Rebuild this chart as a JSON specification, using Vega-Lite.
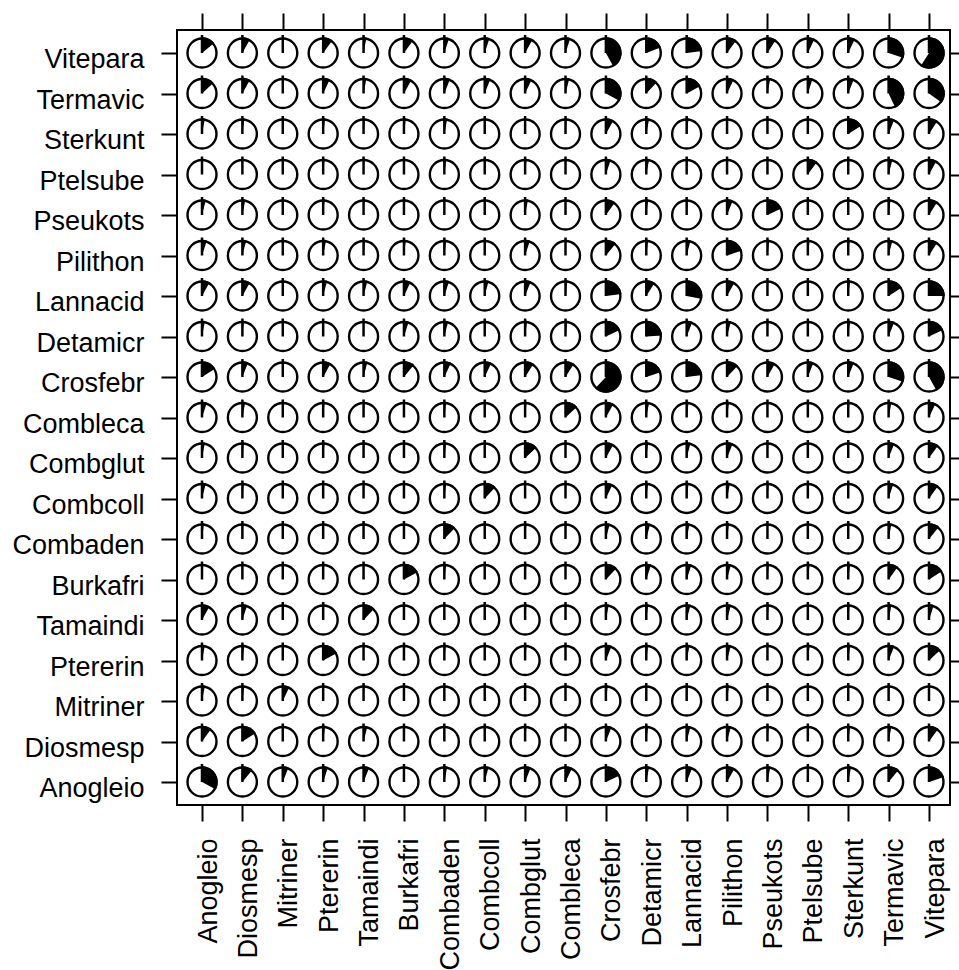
{
  "$schema": "https://vega.github.io/schema/vega-lite/v6.json",
  "autosize": {"type": "none"},
  "padding": {"left": 177, "top": 30, "right": 9, "bottom": 165},
  "width": 773,
  "height": 775,
  "background": "white",
  "config": {
    "view": {"stroke": "black", "strokeWidth": 2},
    "axis": {
      "domain": false,
      "grid": false,
      "tickColor": "black",
      "tickWidth": 2,
      "tickSize": 16,
      "labelFont": "Liberation Sans",
      "labelFontSize": 27,
      "labelColor": "black",
      "labelOverlap": false,
      "labelBound": false,
      "labelFlush": false
    }
  },
  "data": {"values": [
    {"row":"Vitepara","col":"Anogleio","value":0.14},{"row":"Vitepara","col":"Diosmesp","value":0.08},{"row":"Vitepara","col":"Mitriner","value":0.005},{"row":"Vitepara","col":"Ptererin","value":0.10},{"row":"Vitepara","col":"Tamaindi","value":0.03},{"row":"Vitepara","col":"Burkafri","value":0.10},{"row":"Vitepara","col":"Combaden","value":0.05},{"row":"Vitepara","col":"Combcoll","value":0.05},{"row":"Vitepara","col":"Combglut","value":0.08},{"row":"Vitepara","col":"Combleca","value":0.05},{"row":"Vitepara","col":"Crosfebr","value":0.42},{"row":"Vitepara","col":"Detamicr","value":0.19},{"row":"Vitepara","col":"Lannacid","value":0.23},{"row":"Vitepara","col":"Pilithon","value":0.10},{"row":"Vitepara","col":"Pseukots","value":0.09},{"row":"Vitepara","col":"Ptelsube","value":0.07},{"row":"Vitepara","col":"Sterkunt","value":0.07},{"row":"Vitepara","col":"Termavic","value":0.30},{"row":"Vitepara","col":"Vitepara","value":0.59},
    {"row":"Termavic","col":"Anogleio","value":0.13},{"row":"Termavic","col":"Diosmesp","value":0.08},{"row":"Termavic","col":"Mitriner","value":0.005},{"row":"Termavic","col":"Ptererin","value":0.07},{"row":"Termavic","col":"Tamaindi","value":0.03},{"row":"Termavic","col":"Burkafri","value":0.08},{"row":"Termavic","col":"Combaden","value":0.06},{"row":"Termavic","col":"Combcoll","value":0.06},{"row":"Termavic","col":"Combglut","value":0.07},{"row":"Termavic","col":"Combleca","value":0.04},{"row":"Termavic","col":"Crosfebr","value":0.33},{"row":"Termavic","col":"Detamicr","value":0.12},{"row":"Termavic","col":"Lannacid","value":0.17},{"row":"Termavic","col":"Pilithon","value":0.07},{"row":"Termavic","col":"Pseukots","value":0.03},{"row":"Termavic","col":"Ptelsube","value":0.05},{"row":"Termavic","col":"Sterkunt","value":0.06},{"row":"Termavic","col":"Termavic","value":0.43},{"row":"Termavic","col":"Vitepara","value":0.35},
    {"row":"Sterkunt","col":"Anogleio","value":0.03},{"row":"Sterkunt","col":"Diosmesp","value":0.02},{"row":"Sterkunt","col":"Mitriner","value":0.005},{"row":"Sterkunt","col":"Ptererin","value":0.02},{"row":"Sterkunt","col":"Tamaindi","value":0.015},{"row":"Sterkunt","col":"Burkafri","value":0.02},{"row":"Sterkunt","col":"Combaden","value":0.03},{"row":"Sterkunt","col":"Combcoll","value":0.015},{"row":"Sterkunt","col":"Combglut","value":0.01},{"row":"Sterkunt","col":"Combleca","value":0.015},{"row":"Sterkunt","col":"Crosfebr","value":0.08},{"row":"Sterkunt","col":"Detamicr","value":0.03},{"row":"Sterkunt","col":"Lannacid","value":0.02},{"row":"Sterkunt","col":"Pilithon","value":0.01},{"row":"Sterkunt","col":"Pseukots","value":0.005},{"row":"Sterkunt","col":"Ptelsube","value":0.01},{"row":"Sterkunt","col":"Sterkunt","value":0.16},{"row":"Sterkunt","col":"Termavic","value":0.06},{"row":"Sterkunt","col":"Vitepara","value":0.09},
    {"row":"Ptelsube","col":"Anogleio","value":0.005},{"row":"Ptelsube","col":"Diosmesp","value":0.005},{"row":"Ptelsube","col":"Mitriner","value":0.005},{"row":"Ptelsube","col":"Ptererin","value":0.015},{"row":"Ptelsube","col":"Tamaindi","value":0.01},{"row":"Ptelsube","col":"Burkafri","value":0.01},{"row":"Ptelsube","col":"Combaden","value":0.02},{"row":"Ptelsube","col":"Combcoll","value":0.005},{"row":"Ptelsube","col":"Combglut","value":0.015},{"row":"Ptelsube","col":"Combleca","value":0.01},{"row":"Ptelsube","col":"Crosfebr","value":0.05},{"row":"Ptelsube","col":"Detamicr","value":0.03},{"row":"Ptelsube","col":"Lannacid","value":0.01},{"row":"Ptelsube","col":"Pilithon","value":0.01},{"row":"Ptelsube","col":"Pseukots","value":0.005},{"row":"Ptelsube","col":"Ptelsube","value":0.10},{"row":"Ptelsube","col":"Sterkunt","value":0.01},{"row":"Ptelsube","col":"Termavic","value":0.04},{"row":"Ptelsube","col":"Vitepara","value":0.08},
    {"row":"Pseukots","col":"Anogleio","value":0.04},{"row":"Pseukots","col":"Diosmesp","value":0.03},{"row":"Pseukots","col":"Mitriner","value":0.005},{"row":"Pseukots","col":"Ptererin","value":0.015},{"row":"Pseukots","col":"Tamaindi","value":0.01},{"row":"Pseukots","col":"Burkafri","value":0.015},{"row":"Pseukots","col":"Combaden","value":0.01},{"row":"Pseukots","col":"Combcoll","value":0.01},{"row":"Pseukots","col":"Combglut","value":0.03},{"row":"Pseukots","col":"Combleca","value":0.005},{"row":"Pseukots","col":"Crosfebr","value":0.10},{"row":"Pseukots","col":"Detamicr","value":0.02},{"row":"Pseukots","col":"Lannacid","value":0.01},{"row":"Pseukots","col":"Pilithon","value":0.06},{"row":"Pseukots","col":"Pseukots","value":0.18},{"row":"Pseukots","col":"Ptelsube","value":0.005},{"row":"Pseukots","col":"Sterkunt","value":0.01},{"row":"Pseukots","col":"Termavic","value":0.02},{"row":"Pseukots","col":"Vitepara","value":0.09},
    {"row":"Pilithon","col":"Anogleio","value":0.05},{"row":"Pilithon","col":"Diosmesp","value":0.04},{"row":"Pilithon","col":"Mitriner","value":0.005},{"row":"Pilithon","col":"Ptererin","value":0.03},{"row":"Pilithon","col":"Tamaindi","value":0.015},{"row":"Pilithon","col":"Burkafri","value":0.02},{"row":"Pilithon","col":"Combaden","value":0.02},{"row":"Pilithon","col":"Combcoll","value":0.015},{"row":"Pilithon","col":"Combglut","value":0.05},{"row":"Pilithon","col":"Combleca","value":0.01},{"row":"Pilithon","col":"Crosfebr","value":0.11},{"row":"Pilithon","col":"Detamicr","value":0.02},{"row":"Pilithon","col":"Lannacid","value":0.04},{"row":"Pilithon","col":"Pilithon","value":0.20},{"row":"Pilithon","col":"Pseukots","value":0.02},{"row":"Pilithon","col":"Ptelsube","value":0.02},{"row":"Pilithon","col":"Sterkunt","value":0.015},{"row":"Pilithon","col":"Termavic","value":0.04},{"row":"Pilithon","col":"Vitepara","value":0.09},
    {"row":"Lannacid","col":"Anogleio","value":0.08},{"row":"Lannacid","col":"Diosmesp","value":0.08},{"row":"Lannacid","col":"Mitriner","value":0.005},{"row":"Lannacid","col":"Ptererin","value":0.04},{"row":"Lannacid","col":"Tamaindi","value":0.04},{"row":"Lannacid","col":"Burkafri","value":0.07},{"row":"Lannacid","col":"Combaden","value":0.05},{"row":"Lannacid","col":"Combcoll","value":0.04},{"row":"Lannacid","col":"Combglut","value":0.06},{"row":"Lannacid","col":"Combleca","value":0.02},{"row":"Lannacid","col":"Crosfebr","value":0.23},{"row":"Lannacid","col":"Detamicr","value":0.09},{"row":"Lannacid","col":"Lannacid","value":0.28},{"row":"Lannacid","col":"Pilithon","value":0.08},{"row":"Lannacid","col":"Pseukots","value":0.01},{"row":"Lannacid","col":"Ptelsube","value":0.01},{"row":"Lannacid","col":"Sterkunt","value":0.02},{"row":"Lannacid","col":"Termavic","value":0.16},{"row":"Lannacid","col":"Vitepara","value":0.25},
    {"row":"Detamicr","col":"Anogleio","value":0.03},{"row":"Detamicr","col":"Diosmesp","value":0.015},{"row":"Detamicr","col":"Mitriner","value":0.005},{"row":"Detamicr","col":"Ptererin","value":0.01},{"row":"Detamicr","col":"Tamaindi","value":0.005},{"row":"Detamicr","col":"Burkafri","value":0.05},{"row":"Detamicr","col":"Combaden","value":0.04},{"row":"Detamicr","col":"Combcoll","value":0.01},{"row":"Detamicr","col":"Combglut","value":0.02},{"row":"Detamicr","col":"Combleca","value":0.02},{"row":"Detamicr","col":"Crosfebr","value":0.18},{"row":"Detamicr","col":"Detamicr","value":0.24},{"row":"Detamicr","col":"Lannacid","value":0.06},{"row":"Detamicr","col":"Pilithon","value":0.04},{"row":"Detamicr","col":"Pseukots","value":0.01},{"row":"Detamicr","col":"Ptelsube","value":0.015},{"row":"Detamicr","col":"Sterkunt","value":0.02},{"row":"Detamicr","col":"Termavic","value":0.06},{"row":"Detamicr","col":"Vitepara","value":0.18},
    {"row":"Crosfebr","col":"Anogleio","value":0.16},{"row":"Crosfebr","col":"Diosmesp","value":0.06},{"row":"Crosfebr","col":"Mitriner","value":0.01},{"row":"Crosfebr","col":"Ptererin","value":0.08},{"row":"Crosfebr","col":"Tamaindi","value":0.04},{"row":"Crosfebr","col":"Burkafri","value":0.11},{"row":"Crosfebr","col":"Combaden","value":0.07},{"row":"Crosfebr","col":"Combcoll","value":0.07},{"row":"Crosfebr","col":"Combglut","value":0.09},{"row":"Crosfebr","col":"Combleca","value":0.09},{"row":"Crosfebr","col":"Crosfebr","value":0.62},{"row":"Crosfebr","col":"Detamicr","value":0.20},{"row":"Crosfebr","col":"Lannacid","value":0.23},{"row":"Crosfebr","col":"Pilithon","value":0.12},{"row":"Crosfebr","col":"Pseukots","value":0.08},{"row":"Crosfebr","col":"Ptelsube","value":0.06},{"row":"Crosfebr","col":"Sterkunt","value":0.06},{"row":"Crosfebr","col":"Termavic","value":0.30},{"row":"Crosfebr","col":"Vitepara","value":0.42},
    {"row":"Combleca","col":"Anogleio","value":0.05},{"row":"Combleca","col":"Diosmesp","value":0.03},{"row":"Combleca","col":"Mitriner","value":0.005},{"row":"Combleca","col":"Ptererin","value":0.015},{"row":"Combleca","col":"Tamaindi","value":0.01},{"row":"Combleca","col":"Burkafri","value":0.005},{"row":"Combleca","col":"Combaden","value":0.02},{"row":"Combleca","col":"Combcoll","value":0.01},{"row":"Combleca","col":"Combglut","value":0.015},{"row":"Combleca","col":"Combleca","value":0.13},{"row":"Combleca","col":"Crosfebr","value":0.08},{"row":"Combleca","col":"Detamicr","value":0.03},{"row":"Combleca","col":"Lannacid","value":0.02},{"row":"Combleca","col":"Pilithon","value":0.02},{"row":"Combleca","col":"Pseukots","value":0.005},{"row":"Combleca","col":"Ptelsube","value":0.01},{"row":"Combleca","col":"Sterkunt","value":0.015},{"row":"Combleca","col":"Termavic","value":0.03},{"row":"Combleca","col":"Vitepara","value":0.07},
    {"row":"Combglut","col":"Anogleio","value":0.03},{"row":"Combglut","col":"Diosmesp","value":0.015},{"row":"Combglut","col":"Mitriner","value":0.005},{"row":"Combglut","col":"Ptererin","value":0.015},{"row":"Combglut","col":"Tamaindi","value":0.01},{"row":"Combglut","col":"Burkafri","value":0.005},{"row":"Combglut","col":"Combaden","value":0.02},{"row":"Combglut","col":"Combcoll","value":0.01},{"row":"Combglut","col":"Combglut","value":0.13},{"row":"Combglut","col":"Combleca","value":0.005},{"row":"Combglut","col":"Crosfebr","value":0.08},{"row":"Combglut","col":"Detamicr","value":0.02},{"row":"Combglut","col":"Lannacid","value":0.04},{"row":"Combglut","col":"Pilithon","value":0.06},{"row":"Combglut","col":"Pseukots","value":0.01},{"row":"Combglut","col":"Ptelsube","value":0.005},{"row":"Combglut","col":"Sterkunt","value":0.005},{"row":"Combglut","col":"Termavic","value":0.06},{"row":"Combglut","col":"Vitepara","value":0.10},
    {"row":"Combcoll","col":"Anogleio","value":0.04},{"row":"Combcoll","col":"Diosmesp","value":0.015},{"row":"Combcoll","col":"Mitriner","value":0.005},{"row":"Combcoll","col":"Ptererin","value":0.005},{"row":"Combcoll","col":"Tamaindi","value":0.005},{"row":"Combcoll","col":"Burkafri","value":0.005},{"row":"Combcoll","col":"Combaden","value":0.02},{"row":"Combcoll","col":"Combcoll","value":0.12},{"row":"Combcoll","col":"Combglut","value":0.01},{"row":"Combcoll","col":"Combleca","value":0.01},{"row":"Combcoll","col":"Crosfebr","value":0.07},{"row":"Combcoll","col":"Detamicr","value":0.02},{"row":"Combcoll","col":"Lannacid","value":0.02},{"row":"Combcoll","col":"Pilithon","value":0.03},{"row":"Combcoll","col":"Pseukots","value":0.015},{"row":"Combcoll","col":"Ptelsube","value":0.005},{"row":"Combcoll","col":"Sterkunt","value":0.005},{"row":"Combcoll","col":"Termavic","value":0.05},{"row":"Combcoll","col":"Vitepara","value":0.10},
    {"row":"Combaden","col":"Anogleio","value":0.02},{"row":"Combaden","col":"Diosmesp","value":0.01},{"row":"Combaden","col":"Mitriner","value":0.005},{"row":"Combaden","col":"Ptererin","value":0.01},{"row":"Combaden","col":"Tamaindi","value":0.005},{"row":"Combaden","col":"Burkafri","value":0.01},{"row":"Combaden","col":"Combaden","value":0.12},{"row":"Combaden","col":"Combcoll","value":0.01},{"row":"Combaden","col":"Combglut","value":0.015},{"row":"Combaden","col":"Combleca","value":0.01},{"row":"Combaden","col":"Crosfebr","value":0.04},{"row":"Combaden","col":"Detamicr","value":0.04},{"row":"Combaden","col":"Lannacid","value":0.03},{"row":"Combaden","col":"Pilithon","value":0.02},{"row":"Combaden","col":"Pseukots","value":0.005},{"row":"Combaden","col":"Ptelsube","value":0.005},{"row":"Combaden","col":"Sterkunt","value":0.01},{"row":"Combaden","col":"Termavic","value":0.03},{"row":"Combaden","col":"Vitepara","value":0.11},
    {"row":"Burkafri","col":"Anogleio","value":0.005},{"row":"Burkafri","col":"Diosmesp","value":0.005},{"row":"Burkafri","col":"Mitriner","value":0.005},{"row":"Burkafri","col":"Ptererin","value":0.01},{"row":"Burkafri","col":"Tamaindi","value":0.005},{"row":"Burkafri","col":"Burkafri","value":0.17},{"row":"Burkafri","col":"Combaden","value":0.02},{"row":"Burkafri","col":"Combcoll","value":0.005},{"row":"Burkafri","col":"Combglut","value":0.015},{"row":"Burkafri","col":"Combleca","value":0.005},{"row":"Burkafri","col":"Crosfebr","value":0.12},{"row":"Burkafri","col":"Detamicr","value":0.05},{"row":"Burkafri","col":"Lannacid","value":0.05},{"row":"Burkafri","col":"Pilithon","value":0.04},{"row":"Burkafri","col":"Pseukots","value":0.015},{"row":"Burkafri","col":"Ptelsube","value":0.02},{"row":"Burkafri","col":"Sterkunt","value":0.02},{"row":"Burkafri","col":"Termavic","value":0.10},{"row":"Burkafri","col":"Vitepara","value":0.16},
    {"row":"Tamaindi","col":"Anogleio","value":0.08},{"row":"Tamaindi","col":"Diosmesp","value":0.05},{"row":"Tamaindi","col":"Mitriner","value":0.01},{"row":"Tamaindi","col":"Ptererin","value":0.01},{"row":"Tamaindi","col":"Tamaindi","value":0.12},{"row":"Tamaindi","col":"Burkafri","value":0.005},{"row":"Tamaindi","col":"Combaden","value":0.005},{"row":"Tamaindi","col":"Combcoll","value":0.005},{"row":"Tamaindi","col":"Combglut","value":0.015},{"row":"Tamaindi","col":"Combleca","value":0.01},{"row":"Tamaindi","col":"Crosfebr","value":0.03},{"row":"Tamaindi","col":"Detamicr","value":0.02},{"row":"Tamaindi","col":"Lannacid","value":0.04},{"row":"Tamaindi","col":"Pilithon","value":0.04},{"row":"Tamaindi","col":"Pseukots","value":0.015},{"row":"Tamaindi","col":"Ptelsube","value":0.01},{"row":"Tamaindi","col":"Sterkunt","value":0.015},{"row":"Tamaindi","col":"Termavic","value":0.03},{"row":"Tamaindi","col":"Vitepara","value":0.05},
    {"row":"Ptererin","col":"Anogleio","value":0.03},{"row":"Ptererin","col":"Diosmesp","value":0.02},{"row":"Ptererin","col":"Mitriner","value":0.005},{"row":"Ptererin","col":"Ptererin","value":0.17},{"row":"Ptererin","col":"Tamaindi","value":0.005},{"row":"Ptererin","col":"Burkafri","value":0.015},{"row":"Ptererin","col":"Combaden","value":0.015},{"row":"Ptererin","col":"Combcoll","value":0.005},{"row":"Ptererin","col":"Combglut","value":0.015},{"row":"Ptererin","col":"Combleca","value":0.005},{"row":"Ptererin","col":"Crosfebr","value":0.06},{"row":"Ptererin","col":"Detamicr","value":0.02},{"row":"Ptererin","col":"Lannacid","value":0.03},{"row":"Ptererin","col":"Pilithon","value":0.04},{"row":"Ptererin","col":"Pseukots","value":0.005},{"row":"Ptererin","col":"Ptelsube","value":0.02},{"row":"Ptererin","col":"Sterkunt","value":0.02},{"row":"Ptererin","col":"Termavic","value":0.06},{"row":"Ptererin","col":"Vitepara","value":0.13},
    {"row":"Mitriner","col":"Anogleio","value":0.03},{"row":"Mitriner","col":"Diosmesp","value":0.02},{"row":"Mitriner","col":"Mitriner","value":0.07},{"row":"Mitriner","col":"Ptererin","value":0.01},{"row":"Mitriner","col":"Tamaindi","value":0.01},{"row":"Mitriner","col":"Burkafri","value":0.005},{"row":"Mitriner","col":"Combaden","value":0.005},{"row":"Mitriner","col":"Combcoll","value":0.005},{"row":"Mitriner","col":"Combglut","value":0.01},{"row":"Mitriner","col":"Combleca","value":0.005},{"row":"Mitriner","col":"Crosfebr","value":0.02},{"row":"Mitriner","col":"Detamicr","value":0.005},{"row":"Mitriner","col":"Lannacid","value":0.01},{"row":"Mitriner","col":"Pilithon","value":0.02},{"row":"Mitriner","col":"Pseukots","value":0.005},{"row":"Mitriner","col":"Ptelsube","value":0.005},{"row":"Mitriner","col":"Sterkunt","value":0.01},{"row":"Mitriner","col":"Termavic","value":0.01},{"row":"Mitriner","col":"Vitepara","value":0.005},
    {"row":"Diosmesp","col":"Anogleio","value":0.10},{"row":"Diosmesp","col":"Diosmesp","value":0.16},{"row":"Diosmesp","col":"Mitriner","value":0.01},{"row":"Diosmesp","col":"Ptererin","value":0.02},{"row":"Diosmesp","col":"Tamaindi","value":0.04},{"row":"Diosmesp","col":"Burkafri","value":0.005},{"row":"Diosmesp","col":"Combaden","value":0.005},{"row":"Diosmesp","col":"Combcoll","value":0.005},{"row":"Diosmesp","col":"Combglut","value":0.015},{"row":"Diosmesp","col":"Combleca","value":0.01},{"row":"Diosmesp","col":"Crosfebr","value":0.06},{"row":"Diosmesp","col":"Detamicr","value":0.02},{"row":"Diosmesp","col":"Lannacid","value":0.04},{"row":"Diosmesp","col":"Pilithon","value":0.04},{"row":"Diosmesp","col":"Pseukots","value":0.015},{"row":"Diosmesp","col":"Ptelsube","value":0.005},{"row":"Diosmesp","col":"Sterkunt","value":0.02},{"row":"Diosmesp","col":"Termavic","value":0.03},{"row":"Diosmesp","col":"Vitepara","value":0.10},
    {"row":"Anogleio","col":"Anogleio","value":0.33},{"row":"Anogleio","col":"Diosmesp","value":0.11},{"row":"Anogleio","col":"Mitriner","value":0.06},{"row":"Anogleio","col":"Ptererin","value":0.05},{"row":"Anogleio","col":"Tamaindi","value":0.06},{"row":"Anogleio","col":"Burkafri","value":0.005},{"row":"Anogleio","col":"Combaden","value":0.03},{"row":"Anogleio","col":"Combcoll","value":0.04},{"row":"Anogleio","col":"Combglut","value":0.06},{"row":"Anogleio","col":"Combleca","value":0.07},{"row":"Anogleio","col":"Crosfebr","value":0.18},{"row":"Anogleio","col":"Detamicr","value":0.03},{"row":"Anogleio","col":"Lannacid","value":0.06},{"row":"Anogleio","col":"Pilithon","value":0.08},{"row":"Anogleio","col":"Pseukots","value":0.03},{"row":"Anogleio","col":"Ptelsube","value":0.005},{"row":"Anogleio","col":"Sterkunt","value":0.03},{"row":"Anogleio","col":"Termavic","value":0.11},{"row":"Anogleio","col":"Vitepara","value":0.20}
  ]},
  "layer": [
    {
      "mark": {"type": "arc", "radius": 15.8, "fill": "black", "stroke": null},
      "encoding": {
        "x": {"field": "col", "type": "nominal", "axis": null,
              "scale": {"type": "point", "padding": 0, "range": [25, 752],
                        "domain": ["Anogleio","Diosmesp","Mitriner","Ptererin","Tamaindi","Burkafri","Combaden","Combcoll","Combglut","Combleca","Crosfebr","Detamicr","Lannacid","Pilithon","Pseukots","Ptelsube","Sterkunt","Termavic","Vitepara"]}},
        "y": {"field": "row", "type": "nominal", "axis": null,
              "scale": {"type": "point", "padding": 0, "range": [23, 752],
                        "domain": ["Vitepara","Termavic","Sterkunt","Ptelsube","Pseukots","Pilithon","Lannacid","Detamicr","Crosfebr","Combleca","Combglut","Combcoll","Combaden","Burkafri","Tamaindi","Ptererin","Mitriner","Diosmesp","Anogleio"]}},
        "theta": {"field": "value", "type": "quantitative", "stack": null,
                  "scale": {"domain": [0, 1], "range": [0, 6.283185307]}}
      }
    },
    {
      "mark": {"type": "point", "shape": "circle", "size": 841, "filled": false, "stroke": "black", "strokeWidth": 2.4, "opacity": 1},
      "encoding": {
        "x": {"field": "col", "type": "nominal", "title": null,
              "axis": {"orient": "bottom", "labelAngle": 270, "labelAlign": "right", "labelBaseline": "alphabetic", "labelOffset": 14, "labelPadding": 17}},
        "y": {"field": "row", "type": "nominal", "title": null,
              "axis": {"orient": "left", "labelAlign": "right", "labelBaseline": "alphabetic", "labelOffset": 14.5, "labelPadding": 17}}
      }
    },
    {
      "mark": {"type": "rule", "color": "black", "strokeWidth": 2.5, "y2Offset": -18},
      "encoding": {
        "x": {"field": "col", "type": "nominal", "title": null,
              "axis": {"orient": "top", "labels": false, "tickSize": 17}},
        "y": {"field": "row", "type": "nominal", "title": null,
              "axis": {"orient": "right", "labels": false}},
        "y2": {"field": "row"}
      }
    }
  ],
  "resolve": {"axis": {"x": "independent", "y": "independent"}}
}
